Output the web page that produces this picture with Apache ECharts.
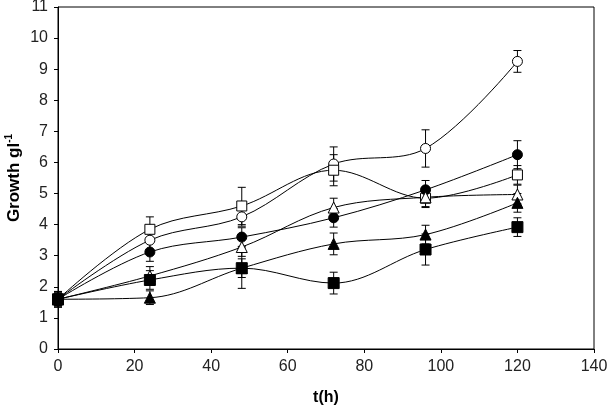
<!DOCTYPE html>
<html><head><meta charset="utf-8">
<script src="https://cdn.jsdelivr.net/npm/echarts@6/dist/echarts.min.js"></script>
<style>html,body{margin:0;padding:0;background:#fff}#c{width:609px;height:409px}</style>
</head><body><div id="c"></div>
<script>
const times = [0, 24, 48, 72, 96, 120];
const openCircle    = [1.6, 3.5, 4.25, 5.95, 6.45, 9.25];
const openCircleErr = [0.25, 0.3, 0.3, 0.55, 0.6, 0.35];
const openSquare    = [1.6, 3.85, 4.6, 5.75, 4.85, 5.6];
const openSquareErr = [0.25, 0.4, 0.6, 0.5, 0.3, 0.3];
const fillCircle    = [1.6, 3.12, 3.6, 4.22, 5.12, 6.25];
const fillCircleErr = [0.2, 0.3, 0.3, 0.3, 0.3, 0.45];
const openTri       = [1.6, 2.35, 3.28, 4.55, 4.88, 4.97];
const openTriErr    = [0.2, 0.3, 0.3, 0.3, 0.3, 0.3];
const fillTri       = [1.6, 1.65, 2.6, 3.38, 3.68, 4.7];
const fillTriErr    = [0.2, 0.22, 0.3, 0.35, 0.3, 0.3];
const fillSquare    = [1.6, 2.22, 2.6, 2.12, 3.2, 3.92];
const fillSquareErr = [0.25, 0.3, 0.65, 0.35, 0.5, 0.3];

const FONT = 'Liberation Sans, Arial, sans-serif';
const defs = [
  {v: openCircle, e: openCircleErr, sym: 'circle', size: 10, fill: '#fff'},
  {v: openSquare, e: openSquareErr, sym: 'rect', size: 10, fill: '#fff'},
  {v: fillCircle, e: fillCircleErr, sym: 'circle', size: 10, fill: '#000'},
  {v: openTri, e: openTriErr, sym: 'triangle', size: 11, fill: '#fff'},
  {v: fillTri, e: fillTriErr, sym: 'triangle', size: 11, fill: '#000'},
  {v: fillSquare, e: fillSquareErr, sym: 'rect', size: 11, fill: '#000'}
];

const series = [];
defs.forEach(function(d){
  const errData = times.map(function(t,i){ return [t, d.v[i] - d.e[i], d.v[i] + d.e[i]]; });
  series.push({
    type: 'custom', z: 1, silent: true,
    data: errData,
    encode: {x: 0, y: [1, 2]},
    renderItem: function(params, api){
      const x = api.value(0);
      const lo = api.coord([x, api.value(1)]);
      const hi = api.coord([x, api.value(2)]);
      const w = 4;
      const st = {stroke: '#000', lineWidth: 1};
      return {type: 'group', children: [
        {type: 'line', shape: {x1: lo[0], y1: lo[1], x2: hi[0], y2: hi[1]}, style: st},
        {type: 'line', shape: {x1: lo[0]-w, y1: lo[1], x2: lo[0]+w, y2: lo[1]}, style: st},
        {type: 'line', shape: {x1: hi[0]-w, y1: hi[1], x2: hi[0]+w, y2: hi[1]}, style: st}
      ]};
    }
  });
  series.push({
    type: 'line', z: 2, smooth: 0.35,
    data: times.map(function(t,i){ return [t, d.v[i]]; }),
    symbol: d.sym, symbolSize: d.size, showAllSymbol: true,
    lineStyle: {color: '#000', width: 1},
    itemStyle: {color: d.fill, borderColor: '#000', borderWidth: 1},
    emphasis: {disabled: true}
  });
});

const chart = echarts.init(document.getElementById('c'), null, {renderer: 'canvas'});
chart.setOption({
  animation: false,
  backgroundColor: '#fff',
  grid: {left: 58, right: 15, top: 7, bottom: 60, show: true, borderColor: '#000', borderWidth: 1,
         containLabel: false, outerBoundsMode: 'none'},
  xAxis: {
    type: 'value', min: 0, max: 140, interval: 20,
    name: 't(h)', nameLocation: 'middle', nameGap: 41, nameMoveOverlap: false,
    nameTextStyle: {fontFamily: FONT, fontWeight: 'bold', fontSize: 16, color: '#000'},
    axisLine: {lineStyle: {color: '#000', width: 1}},
    axisTick: {show: true, length: 4, lineStyle: {color: '#000'}},
    axisLabel: {fontFamily: FONT, fontSize: 16, color: '#222', margin: 10},
    splitLine: {show: false}
  },
  yAxis: {
    type: 'value', min: 0, max: 11, interval: 1,
    name: '{a|Growth gl}{b|-1}', nameLocation: 'middle', nameGap: 34, nameMoveOverlap: false,
    nameTextStyle: {
      rich: {
        a: {fontFamily: FONT, fontWeight: 'bold', fontSize: 17, color: '#000', lineHeight: 20},
        b: {fontFamily: FONT, fontWeight: 'bold', fontSize: 10, color: '#000', verticalAlign: 'top', lineHeight: 20}
      }
    },
    axisLine: {lineStyle: {color: '#000', width: 1}},
    axisTick: {show: true, length: 4, lineStyle: {color: '#000'}},
    axisLabel: {fontFamily: FONT, fontSize: 16, color: '#222', margin: 10},
    splitLine: {show: false}
  },
  series: series
});
</script>
</body></html>
